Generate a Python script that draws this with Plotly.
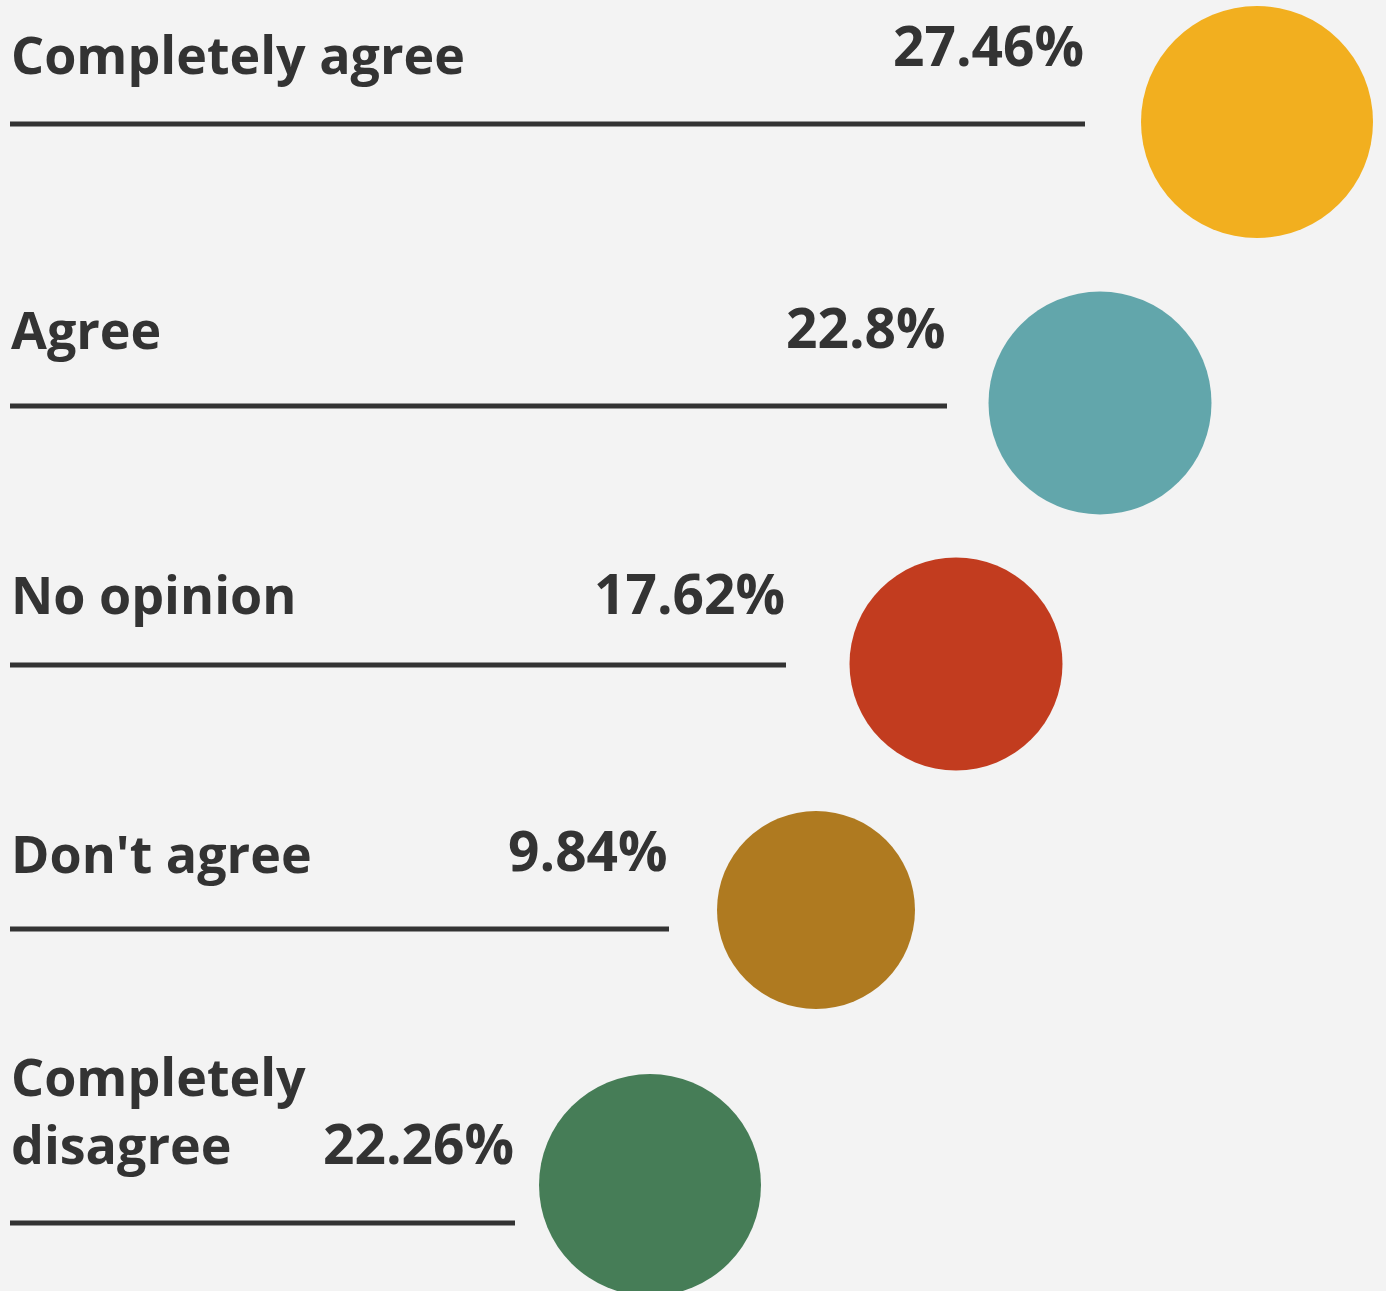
import plotly.graph_objects as go

# ---- data ----
categories = ["Completely agree", "Agree", "No opinion", "Don't agree", "Completely<br>disagree"]
values = [27.46, 22.8, 17.62, 9.84, 22.26]
value_labels = ["27.46%", "22.8%", "17.62%", "9.84%", "22.26%"]
colors = ["#F2AF1F", "#62A6AB", "#C23C1F", "#AF7A20", "#467D57"]

# ---- layout (pixel coordinates) ----
W, H = 1386, 1291
line_y = [124, 406, 665, 929, 1223]
line_end = [1085, 947, 786, 669, 515]
circle_x = [1257, 1100, 956, 816, 650]
circle_y = [122, 403, 664, 910, 1185]
label_base = [75, 350, 615, 874, 1165]
value_base = [67, 349, 615, 872, 1165]

TEXT = "#333333"
FONT = "Open Sans"
LABEL_SIZE = 52
VALUE_SIZE = 55

fig = go.Figure()

# lines
for y, xe in zip(line_y, line_end):
    fig.add_trace(go.Scatter(x=[10, xe], y=[y, y], mode="lines",
                             line=dict(color=TEXT, width=5), hoverinfo="skip",
                             showlegend=False))

# circles sized by value
sizes = [2 * (89.5 + 0.965 * v) for v in values]
fig.add_trace(go.Scatter(x=circle_x, y=circle_y, mode="markers",
                         marker=dict(size=sizes, color=colors, opacity=1, line=dict(width=0)),
                         text=categories, hoverinfo="text", showlegend=False))

annotations = []
for i, cat in enumerate(categories):
    annotations.append(dict(x=10, y=label_base[i] + 0.293 * LABEL_SIZE, xref="x", yref="y",
                            text=cat, showarrow=False, xanchor="left", yanchor="bottom",
                            align="left", borderpad=0,
                            font=dict(family=FONT, size=LABEL_SIZE, color=TEXT, weight=700)))
    annotations.append(dict(x=line_end[i], y=value_base[i] + 0.293 * VALUE_SIZE, xref="x", yref="y",
                            text=value_labels[i], showarrow=False, xanchor="right", yanchor="bottom",
                            align="right", borderpad=0,
                            font=dict(family=FONT, size=VALUE_SIZE, color=TEXT, weight=700)))

fig.update_layout(
    width=W, height=H,
    margin=dict(l=0, r=0, t=0, b=0),
    paper_bgcolor="#F3F3F3", plot_bgcolor="#F3F3F3",
    xaxis=dict(range=[0, W], visible=False, fixedrange=True),
    yaxis=dict(range=[H, 0], visible=False, fixedrange=True),
    annotations=annotations,
)

fig.write_html("out.html", config={"displayModeBar": False},
               post_script="document.body.style.margin='0';document.body.style.background='#F3F3F3';")
